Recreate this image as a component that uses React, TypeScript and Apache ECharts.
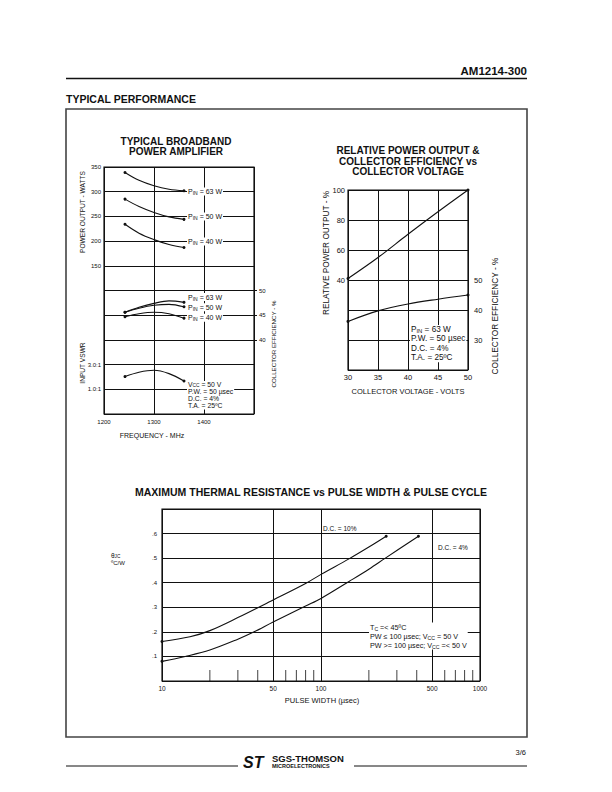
import React, { useEffect, useRef } from 'react';
import * as echarts from 'echarts';

// ---------- data: typical broadband power amplifier ----------
const freqMHz = [1242, 1270, 1300, 1330, 1360];
const powerPin63 = [339, 323, 312, 305, 302];
const powerPin50 = [285, 270, 258, 249, 244];
const powerPin40 = [234, 216, 203, 193, 187];
const effPin63 = [45.6, 46.6, 47.4, 47.9, 47.6];
const effPin50 = [45.6, 46.4, 47.0, 47.2, 46.7];
const effPin40 = [44.7, 45.3, 45.6, 45.3, 44.4];
const inputVswr = [2.03, 2.38, 2.54, 2.27, 1.67];
const freqTicks = [1200, 1300, 1400];
const powerTicks = [150, 200, 250, 300, 350];
const effTicks = [40, 45, 50];
const vswrTicks = [1, 3];

// ---------- data: relative power output & collector efficiency ----------
const collectorVolts = [30, 35, 40, 45, 50];
const relPowerOut = [41, 55, 70.5, 85.5, 100];
const collectorEff = [36.2, 39.7, 42, 43.6, 45];
const relPowerTicks = [40, 60, 80, 100];
const collEffTicks = [30, 40, 50];

// ---------- data: max thermal resistance ----------
const pulseWidthDC10 = [10, 15, 20, 30, 50, 80, 100, 150, 200, 257];
const thermalDC10 = [0.161, 0.18, 0.205, 0.258, 0.33, 0.397, 0.434, 0.497, 0.545, 0.589];
const pulseWidthDC4 = [10, 14, 20, 30, 38, 50, 80, 100, 150, 200, 254, 410];
const thermalDC4 = [0.08, 0.1, 0.126, 0.17, 0.2, 0.24, 0.305, 0.336, 0.405, 0.455, 0.5, 0.589];
const pulseGridLines = [50, 500];
const pulseMinorTicks = [20, 30, 40, 60, 70, 80, 90, 200, 300, 400, 600, 700, 800, 900];
const thermalTicks = [1, 2, 3, 4, 5, 6];

const INK = '#111';
const FONT = '"Liberation Sans", Arial, Helvetica, sans-serif';

const zip = (xs: number[], ys: number[]) => xs.map((x, i) => [x, ys[i]]);

function curve(xs: number[], ys: number[], xi: number, yi: number) {
  const last = xs.length - 1;
  return {
    type: 'line',
    data: zip(xs, ys),
    xAxisIndex: xi,
    yAxisIndex: yi,
    smooth: 0.35,
    symbol: 'circle',
    showSymbol: true,
    showAllSymbol: true,
    symbolSize: (_v: any, p: any) => (p.dataIndex === 0 || p.dataIndex === last ? 3 : 0),
    lineStyle: { color: INK, width: 1.1 },
    itemStyle: { color: INK },
    silent: true,
    z: 5,
  };
}

function rich(size: number, lh: number) {
  return {
    n: { fontSize: size, fontFamily: FONT, fill: INK, color: INK, lineHeight: lh },
    s: { fontSize: size * 0.72, fontFamily: FONT, fill: INK, color: INK, lineHeight: lh, verticalAlign: 'bottom' },
  };
}

function txt(text: string, x: number, y: number, o: any = {}) {
  const align = o.align || 'left';
  const valign = o.valign || 'middle';
  const style: any = {
    text,
    font: `${o.italic ? 'italic ' : ''}${o.weight || 'normal'} ${o.size || 6.5}px ${FONT}`,
    fill: INK,
    align,
    verticalAlign: valign,
    textAlign: align,
    textVerticalAlign: valign,
  };
  if (o.bg) { style.backgroundColor = o.bg; style.padding = o.pad || [1, 2]; }
  if (o.rich) style.rich = o.rich;
  if (o.lh) style.lineHeight = o.lh;
  return { type: 'text', x, y, z: 100, silent: true, rotation: o.rot || 0, style };
}

const axisLbl = (size: number, margin: number, formatter: any) => ({
  fontSize: size, fontFamily: FONT, color: INK, margin, formatter,
});
const gridLine = { show: true, lineStyle: { color: INK, width: 1, type: 'solid' } };

export default function App() {
  const ref = useRef<HTMLDivElement>(null);
  useEffect(() => {
    if (!ref.current) return;
    const chart = echarts.init(ref.current, null, { renderer: 'svg', width: 612, height: 792 });

    const pin = (w: string) => `{n|P}{s|IN}{n| = ${w} W}`;
    const g: any[] = [];
    // page header
    g.push(txt('AM1214-300', 527, 71, { size: 11.5, weight: 'bold', align: 'right' }));
    g.push({ type: 'line', z: 100, silent: true, shape: { x1: 66, y1: 78.5, x2: 527, y2: 78.5 }, style: { stroke: INK, lineWidth: 1.5 } });
    g.push(txt('TYPICAL PERFORMANCE', 66, 99, { size: 10.5, weight: 'bold' }));
    g.push({ type: 'rect', z: 1, silent: true, shape: { x: 66, y: 109, width: 461, height: 628 }, style: { fill: 'none', stroke: '#444', lineWidth: 1.6 } });
    // footer
    g.push({ type: 'line', z: 100, silent: true, shape: { x1: 66, y1: 766, x2: 238, y2: 766 }, style: { stroke: INK, lineWidth: 1 } });
    g.push({ type: 'line', z: 100, silent: true, shape: { x1: 354, y1: 766, x2: 527, y2: 766 }, style: { stroke: INK, lineWidth: 1 } });
    g.push(txt('ST', 243, 762, { size: 16, weight: '900', italic: true }));
    g.push(txt('SGS-THOMSON', 272, 758, { size: 9.5, weight: 'bold' }));
    g.push(txt('MICROELECTRONICS', 272, 766, { size: 5.5, weight: 'bold' }));
    g.push(txt('3/6', 526, 752, { size: 7.5, align: 'right' }));

    // left chart texts
    g.push(txt('TYPICAL BROADBAND', 176, 141.5, { size: 10, weight: 'bold', align: 'center' }));
    g.push(txt('POWER AMPLIFIER', 176, 151.7, { size: 10, weight: 'bold', align: 'center' }));
    g.push(txt('POWER OUTPUT - WATTS', 82, 212, { size: 6.6, align: 'center', rot: Math.PI / 2 }));
    g.push(txt('INPUT VSWR', 82, 363, { size: 6.6, align: 'center', rot: Math.PI / 2 }));
    g.push(txt('COLLECTOR EFFICIENCY - %', 273, 344, { size: 6.2, align: 'center', rot: Math.PI / 2 }));
    g.push(txt('FREQUENCY - MHz', 152, 435, { size: 7, align: 'center' }));
    const rPow = rich(7, 8);
    g.push(txt(pin('63'), 187, 191.5, { rich: rPow, bg: '#fff', pad: [0, 1] }));
    g.push(txt(pin('50'), 187, 216.5, { rich: rPow, bg: '#fff', pad: [0, 1] }));
    g.push(txt(pin('40'), 187, 241.5, { rich: rPow, bg: '#fff', pad: [0, 1] }));
    g.push(txt(pin('63'), 187, 297, { rich: rPow, bg: '#fff', pad: [0, 1] }));
    g.push(txt(pin('50'), 187, 307.3, { rich: rPow, bg: '#fff', pad: [0, 1] }));
    g.push(txt(pin('40'), 187, 317.7, { rich: rPow, bg: '#fff', pad: [0, 1] }));
    g.push(txt('{n|V}{s|CC}{n| = 50 V}\n{n|P.W. = 50 µsec}\n{n|D.C. = 4%}\n{n|T.A. = 25ºC}', 187, 381, {
      rich: rich(6.8, 7.1), valign: 'top', bg: '#fff', pad: [0, 1],
    }));

    // right chart texts
    g.push(txt('RELATIVE POWER OUTPUT &', 408, 150.8, { size: 10, weight: 'bold', align: 'center' }));
    g.push(txt('COLLECTOR EFFICIENCY vs', 408, 161, { size: 10, weight: 'bold', align: 'center' }));
    g.push(txt('COLLECTOR VOLTAGE', 408, 171.2, { size: 10, weight: 'bold', align: 'center' }));
    g.push(txt('RELATIVE POWER OUTPUT - %', 326, 253, { size: 8.3, align: 'center', rot: Math.PI / 2 }));
    g.push(txt('COLLECTOR EFFICIENCY - %', 495, 316, { size: 8.3, align: 'center', rot: Math.PI / 2 }));
    g.push(txt('COLLECTOR VOLTAGE - VOLTS', 408, 391, { size: 7.5, align: 'center' }));
    g.push(txt('{n|P}{s|IN}{n| = 63 W}\n{n|P.W. = 50 µsec}\n{n|D.C. = 4%}\n{n|T.A. = 25ºC}', 410, 325, {
      rich: rich(8.2, 9.3), valign: 'top', bg: '#fff', pad: [0, 1],
    }));

    // bottom chart texts
    g.push(txt('MAXIMUM THERMAL RESISTANCE vs PULSE WIDTH & PULSE CYCLE', 311, 492, { size: 10.5, weight: 'bold', align: 'center' }));
    g.push(txt('{n|θ}{s|JC}', 111, 555, { rich: rich(6.5, 7.5) }));
    g.push(txt('ºC/W', 111, 562.5, { size: 6 }));
    g.push(txt('D.C. = 10%', 323, 528, { size: 6.5 }));
    g.push(txt('D.C. = 4%', 438, 547, { size: 6.5 }));
    g.push(txt('PULSE WIDTH (µsec)', 322, 700, { size: 7.5, align: 'center' }));
    g.push(txt('{n|T}{s|C}{n| =< 45ºC}\n{n|PW ≤ 100 µsec; V}{s|CC}{n| = 50 V}\n{n|PW >= 100 µsec; V}{s|CC}{n| =< 50 V}', 369, 622.5, {
      rich: rich(7.2, 9), valign: 'top', bg: '#fff', pad: [0, 1],
    }));

    const option: any = {
      animation: false,
      backgroundColor: '#fff',
      grid: [
        { left: 104, top: 167, width: 150, height: 247, show: true, borderColor: INK, borderWidth: 1.2, containLabel: false, outerBoundsMode: 'none' },
        { left: 348, top: 190, width: 120, height: 180, show: true, borderColor: INK, borderWidth: 1.2, containLabel: false, outerBoundsMode: 'none' },
        { left: 162, top: 509, width: 318, height: 172, show: true, borderColor: INK, borderWidth: 1.2, containLabel: false, outerBoundsMode: 'none' },
      ],
      xAxis: [
        {
          gridIndex: 0, type: 'value', min: 1200, max: 1500, interval: 100,
          axisLine: { show: false }, axisTick: { show: false },
          axisLabel: axisLbl(6, 5, (v: number) => (freqTicks.includes(v) ? String(v) : '')),
          splitLine: gridLine,
        },
        {
          gridIndex: 1, type: 'value', min: 30, max: 50, interval: 5,
          axisLine: { show: false }, axisTick: { show: false },
          axisLabel: axisLbl(7.5, 3, (v: number) => String(v)),
          splitLine: gridLine,
        },
        {
          gridIndex: 2, type: 'log', logBase: 10, min: 10, max: 1000,
          axisLine: { show: false }, axisTick: { show: false },
          axisLabel: axisLbl(6.5, 4, (v: number) => String(v)),
          splitLine: gridLine,
        },
      ],
      yAxis: [
        {
          gridIndex: 0, type: 'value', position: 'left', offset: 0, min: -150, max: 350, interval: 50,
          axisLine: { show: false }, axisTick: { show: false },
          axisLabel: axisLbl(6, 3, (v: number) => (powerTicks.includes(v) ? String(v) : '')),
          splitLine: gridLine,
        },
        {
          gridIndex: 0, type: 'value', position: 'right', offset: 0, min: 25, max: 75, interval: 5,
          axisLine: { show: false },
          axisTick: { show: true, length: 3, customValues: effTicks, lineStyle: { color: INK, width: 1 } },
          axisLabel: axisLbl(6, 5, (v: number) => (effTicks.includes(v) ? String(v) : '')),
          splitLine: { show: false },
        },
        {
          gridIndex: 0, type: 'value', position: 'left', offset: 0, min: -1, max: 19, interval: 2,
          axisLine: { show: false }, axisTick: { show: false },
          axisLabel: axisLbl(6, 3, (v: number) => (vswrTicks.includes(v) ? v.toFixed(1) + ':1' : '')),
          splitLine: { show: false },
        },
        {
          gridIndex: 1, type: 'value', position: 'left', offset: 0, min: -20, max: 100, interval: 20,
          axisLine: { show: false }, axisTick: { show: false },
          axisLabel: axisLbl(7.5, 3, (v: number) => (relPowerTicks.includes(v) ? String(v) : '')),
          splitLine: gridLine,
        },
        {
          gridIndex: 1, type: 'value', position: 'right', offset: 0, min: 20, max: 80, interval: 10,
          axisLine: { show: false }, axisTick: { show: false },
          axisLabel: axisLbl(7.5, 6, (v: number) => (collEffTicks.includes(v) ? String(v) : '')),
          splitLine: { show: false },
        },
        {
          gridIndex: 2, type: 'value', position: 'left', offset: 0, min: 0, max: 0.7, interval: 0.1,
          axisLine: { show: false }, axisTick: { show: false },
          axisLabel: axisLbl(6, 5, (v: number) => (thermalTicks.includes(Math.round(v * 10)) ? '.' + Math.round(v * 10) : '')),
          splitLine: gridLine,
        },
      ],
      series: [
        curve(freqMHz, powerPin63, 0, 0),
        curve(freqMHz, powerPin50, 0, 0),
        curve(freqMHz, powerPin40, 0, 0),
        curve(freqMHz, effPin63, 0, 1),
        curve(freqMHz, effPin50, 0, 1),
        curve(freqMHz, effPin40, 0, 1),
        curve(freqMHz, inputVswr, 0, 2),
        curve(collectorVolts, relPowerOut, 1, 3),
        curve(collectorVolts, collectorEff, 1, 4),
        {
          ...curve(pulseWidthDC10, thermalDC10, 2, 5),
          markLine: {
            silent: true, symbol: 'none', animation: false,
            lineStyle: { color: INK, width: 1, type: 'solid' },
            label: { show: true, position: 'start', distance: 4, fontSize: 6.5, fontFamily: FONT, color: INK, formatter: (p: any) => String(p.value) },
            data: pulseGridLines.map((v) => ({ xAxis: v })),
          },
        },
        curve(pulseWidthDC4, thermalDC4, 2, 5),
        {
          type: 'scatter', xAxisIndex: 2, yAxisIndex: 5, silent: true, clip: false,
          data: pulseMinorTicks.map((v) => [v, 0]),
          symbol: 'rect', symbolSize: [1, 11], symbolOffset: [0, -5.5],
          itemStyle: { color: INK }, z: 4,
        },
      ],
      graphic: { elements: g },
    };
    chart.setOption(option);
    return () => chart.dispose();
  }, []);
  return (
    <div
      ref={ref}
      style={{ position: 'absolute', left: 0, top: 0, width: 612, height: 792, background: '#fff' }}
    />
  );
}
